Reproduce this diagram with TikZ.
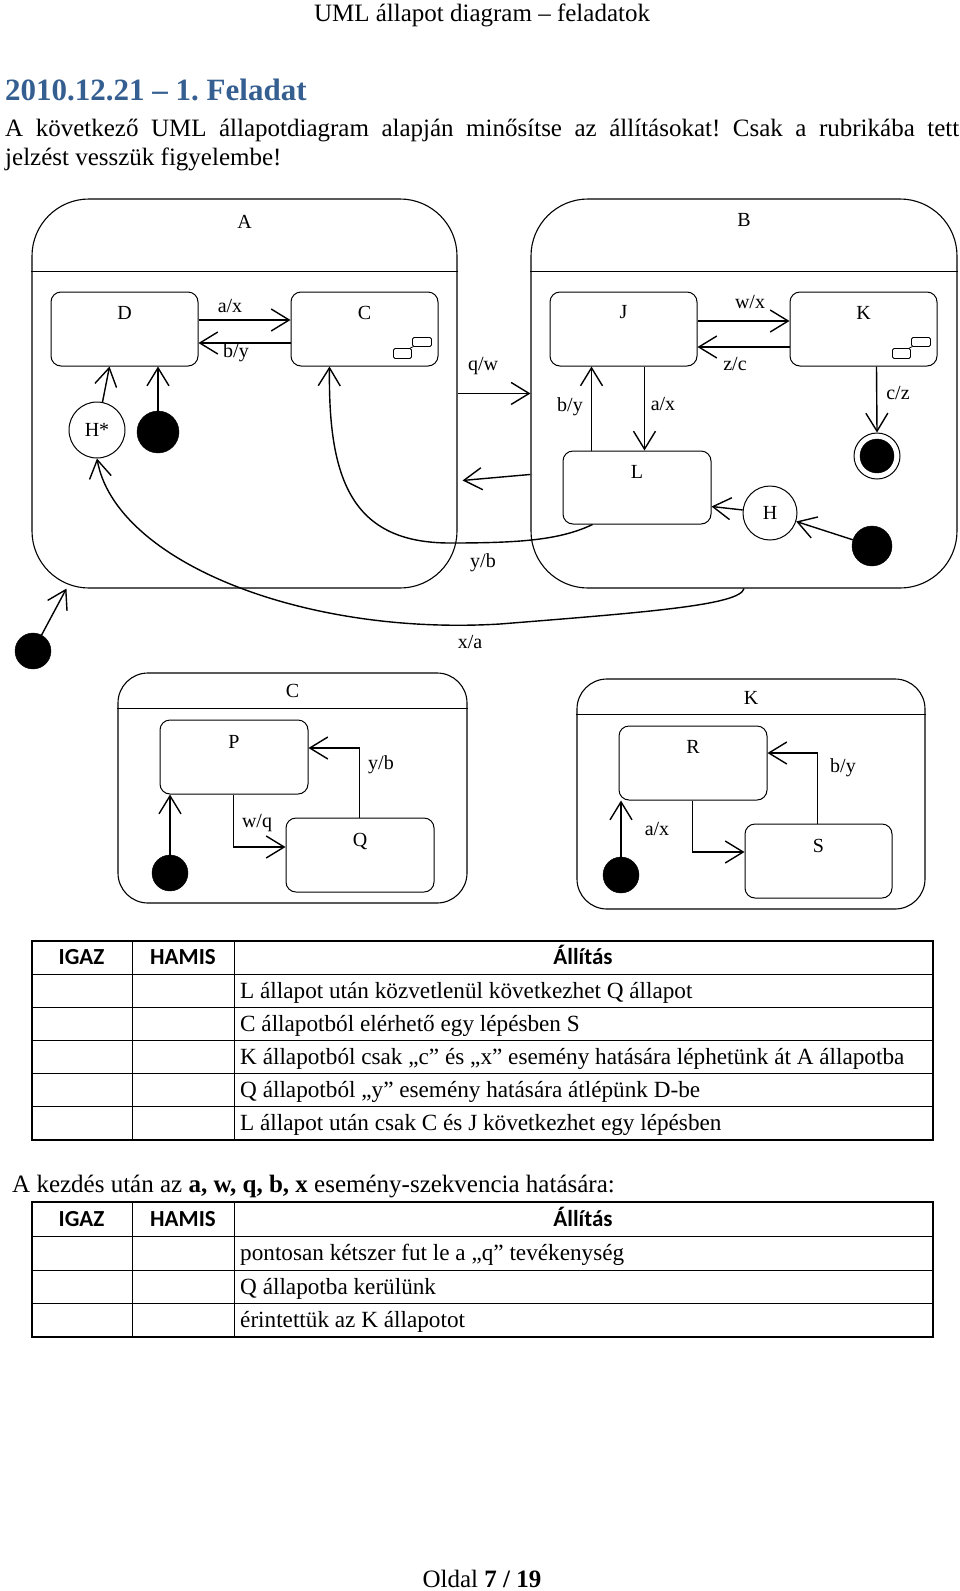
\documentclass[tikz,border=0pt]{standalone}
\usepackage{fontspec}
\setmainfont{Liberation Serif}
\newfontfamily\carl{Carlito}
\usetikzlibrary{arrows.meta,calc}
\definecolor{ttlblue}{RGB}{54,95,145}
\newcommand\myBody{\fontsize{25}{30}\selectfont}
\newcommand\myTab{\fontsize{23.2}{28}\selectfont}
\newcommand\myDiag{\fontsize{20}{24}\selectfont}
\newcommand\myHead{\carl\bfseries\fontsize{23}{28}\selectfont}
\newcommand\myTitle{\bfseries\fontsize{31}{36}\selectfont}
\frenchspacing
\begin{document}
\begin{tikzpicture}[x=1pt,y=-1pt,
  st/.style={draw, line width=1pt, rounded corners=10pt, inner sep=0pt, minimum width=147pt, minimum height=74pt},
  comp/.style={draw, line width=1.1pt, inner sep=0pt},
  arr/.style={-{Straight Barb[length=18pt,width=22pt]}, line width=1.4pt},
  dl/.style={font=\myDiag, inner sep=0pt},
  initst/.style={circle, fill=black, draw=black, inner sep=0pt},
  txt/.style={font=\myBody, inner sep=0pt, anchor=base west},
  ttxt/.style={font=\myTab, inner sep=0pt, anchor=base west},
  th/.style={font=\myHead, inner sep=0pt, anchor=base},
  tout/.style={line width=2pt},
  tin/.style={line width=1pt},
  compicon/.pic={
    \draw[line width=0.8pt, rounded corners=1.5pt] (-45,-18) rectangle (-27,-8);
    \draw[line width=0.8pt, rounded corners=1.5pt] (-26,-29) rectangle (-7,-20);
    \draw[line width=0.8pt] (-29,-18) -- (-25,-20);
  }
]
\useasboundingbox[fill=white] (0,0) rectangle (960,1591);

% ---------- page texts ----------
\node[font=\myBody, inner sep=0pt, anchor=base] (hdr) at (482,21) {UML állapot diagram – feladatok};
\node[font=\myTitle, text=ttlblue, inner sep=0pt, anchor=base west] (ttl) at (5,100) {2010.12.21 – 1. Feladat};
\node[txt] (l1) at (5,136.5) {\makebox[954pt][s]{A következő UML állapotdiagram alapján minősítse az állításokat! Csak a rubrikába tett}};
\node[txt] (l2) at (5,165) {jelzést vesszük figyelembe!};

% ---------- composite A ----------
\node[comp, rounded corners=57pt, minimum width=425pt, minimum height=389pt,
  label={[dl,anchor=center,yshift=-23pt]north:A}] (A) at (244.5,393.5) {};
\draw[line width=1.1pt] ($(A.north west)+(0,73)$) -- ($(A.north east)+(0,73)$);
\node[st, label={[dl,anchor=center,yshift=-21pt]north:D}] (D) at (124.5,329) {};
\node[st, label={[dl,anchor=center,yshift=-21pt]north:C}] (C) at (364.5,329) {};
\pic at (C.south east) {compicon};
\node[circle, draw, line width=1pt, minimum size=56pt, inner sep=0pt, font=\myDiag] (Hs) at (97,430) {H*};
\node[initst, minimum size=42pt] (iA) at (158,432) {};
\node[initst, minimum size=36pt] (iO) at (33,651) {};

% ---------- composite B ----------
\node[comp, rounded corners=57pt, minimum width=426pt, minimum height=389pt,
  label={[dl,anchor=center,yshift=-22pt]north:B}] (B) at (744,393.5) {};
\draw[line width=1.1pt] ($(B.north west)+(0,73)$) -- ($(B.north east)+(0,73)$);
\node[st, label={[dl,anchor=center,yshift=-21pt]north:J}] (J) at (623.5,329) {};
\node[st, label={[dl,anchor=center,yshift=-21pt]north:K}] (K) at (863.5,329) {};
\pic at (K.south east) {compicon};
\node[st, minimum width=148pt, minimum height=73pt, label={[dl,anchor=center,yshift=-21pt]north:L}] (L) at (637,487.5) {};
\node[circle, draw, line width=1pt, minimum size=46pt, inner sep=0pt] (fB) at (877,456) {};
\node[initst, minimum size=34pt] (fBin) at (fB.center) {};
\node[circle, draw, line width=1pt, minimum size=54pt, inner sep=0pt, font=\myDiag] (Hh) at (770,513) {H};
\node[initst, minimum size=40pt] (iB) at (872,546) {};

% ---------- transitions top ----------
\draw[arr] ([yshift=9pt]D.east) -- ([yshift=9pt]C.west);
\node[dl] (lax1) at (230,306) {a/x};
\draw[arr] ([yshift=-14pt]C.west) -- ([yshift=-14pt]D.east);
\node[dl] (lby1) at (236,353) {b/y};
\draw[arr] (iA.north) -- (iA.north |- D.south);
\draw[arr] (Hs) -- ($(D.south west)+(59,0)$);
\draw[arr] ($(A.north east)+(0,195)$) -- ($(B.north west)+(0,195)$);
\node[dl] (lqw) at (483,366) {q/w};
\draw[arr] ($(B.north west)+(0,276)$) -- ($(A.north east)+(5,282)$);
\draw[arr] ($(L.south west)+(30,0)$) .. controls (560,540) and (520,543) .. (450,543)
  .. controls (352,543) and (328,480) .. ($(C.south west)+(39,0)$);
\node[dl] (lyb1) at (483,563) {y/b};
\draw[arr] (B.south) .. controls (740,605) and (650,612) .. (500,624)
  .. controls (300,636) and (115,560) .. (Hs.south);
\node[dl] (lxa) at (470,642) {x/a};
\draw[arr] (iO) -- ($(A.south west)+(35,0)$);

\draw[arr] ([yshift=8pt]J.east) -- ([yshift=8pt]K.west);
\node[dl] (lwx) at (750,302) {w/x};
\draw[arr] ([yshift=-18pt]K.west) -- ([yshift=-18pt]J.east);
\node[dl] (lzc) at (735,364) {z/c};
\draw[arr] ($(J.south west)+(95,0)$) -- ($(L.north west)+(82,0)$);
\node[dl] (lax2) at (663,404) {a/x};
\draw[arr] ($(L.north west)+(29,0)$) -- ($(J.south west)+(42,0)$);
\node[dl] (lby2) at (570,407) {b/y};
\draw[arr] ($(K.south west)+(87,0)$) -- (fB.north);
\node[dl] (lcz) at (898,393) {c/z};
\draw[arr] (Hh) -- ($(L.south east)+(0,-18)$);
\draw[arr] (iB) -- (Hh);

% ---------- composite C (detail) ----------
\node[comp, rounded corners=30pt, minimum width=349pt, minimum height=230pt,
  label={[dl,anchor=center,yshift=-19pt]north:C}] (Cc) at (292.5,788) {};
\draw[line width=1.1pt] ($(Cc.north west)+(0,36)$) -- ($(Cc.north east)+(0,36)$);
\node[st, minimum width=148pt, label={[dl,anchor=center,yshift=-22pt]north:P}] (P) at (234,757) {};
\node[st, minimum width=148pt, label={[dl,anchor=center,yshift=-24pt]north:Q}] (Q) at (360,855) {};
\node[initst, minimum size=36pt] (iC) at (170,873) {};
\draw[arr] (iC) -- (iC |- P.south);
\draw[arr] ($(P.south west)+(74,0)$) |- ($(Q.west)+(0,-8)$);
\node[dl] (lwq) at (257,823) {w/q};
\draw[arr] ($(Q.north west)+(74,0)$) |- ($(P.east)+(0,-9)$);
\node[dl] (lyb2) at (381,765) {y/b};

% ---------- composite K (detail) ----------
\node[comp, rounded corners=30pt, minimum width=348pt, minimum height=230pt,
  label={[dl,anchor=center,yshift=-19pt]north:K}] (Kk) at (751,794) {};
\draw[line width=1.1pt] ($(Kk.north west)+(0,36)$) -- ($(Kk.north east)+(0,36)$);
\node[st, minimum width=148pt, label={[dl,anchor=center,yshift=-21pt]north:R}] (R) at (693,763) {};
\node[st, label={[dl,anchor=center,yshift=-22pt]north:S}] (S) at (818.5,861) {};
\node[initst, minimum size=36pt] (iK) at (621,875) {};
\draw[arr] (iK) -- (iK |- R.south);
\node[dl] (lax3) at (657,829) {a/x};
\draw[arr] ($(R.south west)+(74,0)$) |- ($(S.west)+(0,-9)$);
\draw[arr] ($(S.north west)+(73,0)$) |- ($(R.east)+(0,-10)$);
\node[dl] (lby3) at (843,768) {b/y};

% ---------- table 1 ----------
\draw[tin] (31.5,974) -- (932.5,974);
\foreach \yy in {1007,1040,1073,1106} \draw[tin] (31.5,\yy) -- (932.5,\yy);
\draw[tin] (132,940.5) -- (132,1139.5);
\draw[tin] (234,940.5) -- (234,1139.5);
\draw[tout] (31.5,940.5) rectangle (932.5,1139.5);
\node[th] (h1a) at (81.5,964.5) {IGAZ};
\node[th] (h1b) at (183,964.5) {HAMIS};
\node[th] (h1c) at (583,964.5) {Állítás};
\node[ttxt] (r11) at (240,998) {L állapot után közvetlenül következhet Q állapot};
\node[ttxt] (r12) at (240,1031) {C állapotból elérhető egy lépésben S};
\node[ttxt] (r13) at (240,1064) {K állapotból csak „c” és „x” esemény hatására léphetünk át A állapotba};
\node[ttxt] (r14) at (240,1097) {Q állapotból „y” esemény hatására átlépünk D-be};
\node[ttxt] (r15) at (240,1130) {L állapot után csak C és J következhet egy lépésben};

% ---------- sequence line ----------
\node[txt] (seq) at (12,1192.5) {A kezdés után az \textbf{a, w, q, b, x} esemény-szekvencia hatására:};

% ---------- table 2 ----------
\foreach \yy in {1236,1270,1303} \draw[tin] (31.5,\yy) -- (932.5,\yy);
\draw[tin] (132,1202) -- (132,1336.5);
\draw[tin] (234,1202) -- (234,1336.5);
\draw[tout] (31.5,1202) rectangle (932.5,1336.5);
\node[th] (h2a) at (81.5,1226.5) {IGAZ};
\node[th] (h2b) at (183,1226.5) {HAMIS};
\node[th] (h2c) at (583,1226.5) {Állítás};
\node[ttxt] (r21) at (240,1260.5) {pontosan kétszer fut le a „q” tevékenység};
\node[ttxt] (r22) at (240,1294) {Q állapotba kerülünk};
\node[ttxt] (r23) at (240,1327.5) {érintettük az K állapotot};

% ---------- footer ----------
\node[font=\myBody, inner sep=0pt, anchor=base] (ftr) at (482,1587) {Oldal \textbf{7 / 19}};
\end{tikzpicture}
\end{document}
